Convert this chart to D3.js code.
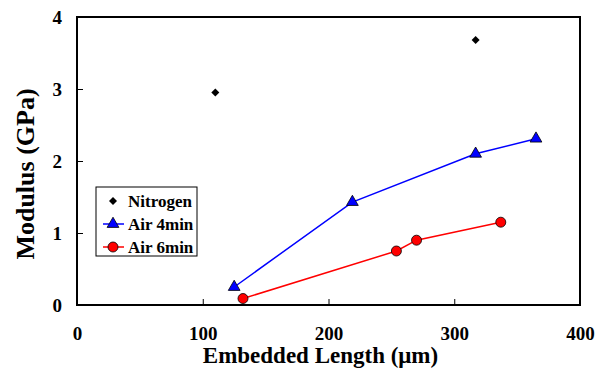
<!DOCTYPE html>
<html>
<head>
<meta charset="utf-8">
<script src="https://cdn.jsdelivr.net/npm/d3@7"></script>
<style>
  body { margin: 0; background: #fff; }
  svg text { font-family: "Liberation Serif", "Times New Roman", serif; font-weight: bold; }
</style>
</head>
<body>
<div id="chart"></div>
<script>
// data
const nitrogenX = [110, 317];
const nitrogenY = [2.95, 3.68];
const air4X = [125, 219, 317, 365];
const air4Y = [0.25, 1.43, 2.10, 2.31];
const air6X = [132, 254, 270, 337];
const air6Y = [0.09, 0.75, 0.90, 1.15];
const xTicks = [0, 100, 200, 300, 400];
const yTicks = [0, 1, 2, 3, 4];

const W = 605, H = 370;
const margin = { top: 17, right: 25, bottom: 65, left: 77 };
const width = W - margin.left - margin.right;
const height = H - margin.top - margin.bottom;
const serif = '"Liberation Serif", "Times New Roman", serif';

const svg = d3.select('#chart')
  .append('svg')
  .attr('width', W)
  .attr('height', H);

const g = svg.append('g')
  .attr('transform', `translate(${margin.left},${margin.top})`);

const x = d3.scaleLinear().domain([0, 400]).range([0, width]);
const y = d3.scaleLinear().domain([0, 4]).range([height, 0]);

// frame
g.append('rect')
  .attr('width', width)
  .attr('height', height)
  .attr('fill', 'none')
  .attr('stroke', '#000')
  .attr('stroke-width', 2);

// x axis, ticks inward
const xAxis = g.append('g')
  .attr('transform', `translate(0,${height})`)
  .call(d3.axisBottom(x).tickValues(xTicks).tickFormat(d3.format('d')).tickSize(-6).tickPadding(22))
  .attr('font-family', serif)
  .attr('font-size', 19)
  .attr('font-weight', 'bold');
xAxis.select('.domain').remove();
xAxis.selectAll('.tick text').attr('fill', '#000');

// y axis, ticks inward
const yAxis = g.append('g')
  .call(d3.axisLeft(y).tickValues(yTicks).tickFormat(d3.format('d')).tickSize(-6).tickPadding(15))
  .attr('font-family', serif)
  .attr('font-size', 19)
  .attr('font-weight', 'bold');
yAxis.select('.domain').remove();
yAxis.selectAll('.tick text').attr('fill', '#000');

// axis titles
svg.append('text')
  .attr('x', margin.left + width / 2 - 8)
  .attr('y', 363)
  .attr('text-anchor', 'middle')
  .attr('font-size', 23)
  .text('Embedded Length (\u03bcm)');

svg.append('text')
  .attr('transform', 'translate(34,174) rotate(-90)')
  .attr('text-anchor', 'middle')
  .attr('font-size', 26)
  .text('Modulus (GPa)');

const line = d3.line().x(d => x(d[0])).y(d => y(d[1]));
const air4 = air4X.map((v, i) => [v, air4Y[i]]);
const air6 = air6X.map((v, i) => [v, air6Y[i]]);
const nitrogen = nitrogenX.map((v, i) => [v, nitrogenY[i]]);

g.append('path').datum(air4).attr('d', line)
  .attr('fill', 'none').attr('stroke', '#0000ff').attr('stroke-width', 1.5);
g.append('path').datum(air6).attr('d', line)
  .attr('fill', 'none').attr('stroke', '#ff0000').attr('stroke-width', 1.5);

const tri = d3.symbol().type(d3.symbolTriangle).size(60);
const sq = d3.symbol().type(d3.symbolSquare).size(32);

g.selectAll('.tri').data(air4).enter().append('path')
  .attr('d', tri)
  .attr('transform', d => `translate(${x(d[0])},${y(d[1])})`)
  .attr('fill', '#0000ff').attr('stroke', '#000').attr('stroke-width', 0.8);

g.selectAll('.circ').data(air6).enter().append('circle')
  .attr('cx', d => x(d[0])).attr('cy', d => y(d[1])).attr('r', 5)
  .attr('fill', '#ff0000').attr('stroke', '#000').attr('stroke-width', 0.8);

g.selectAll('.dia').data(nitrogen).enter().append('path')
  .attr('d', sq)
  .attr('transform', d => `translate(${x(d[0])},${y(d[1])}) rotate(45)`)
  .attr('fill', '#000');

// legend
const lg = svg.append('g').attr('transform', 'translate(96,187)');
lg.append('rect')
  .attr('width', 101).attr('height', 69)
  .attr('fill', '#fff').attr('stroke', '#000').attr('stroke-width', 1);

const items = [
  { name: 'Nitrogen', color: null, sym: 'dia' },
  { name: 'Air 4min', color: '#0000ff', sym: 'tri' },
  { name: 'Air 6min', color: '#ff0000', sym: 'circ' }
];
items.forEach((it, i) => {
  const cy = 14 + i * 23;
  const row = lg.append('g').attr('transform', `translate(0,${cy})`);
  if (it.color) {
    row.append('line').attr('x1', 7).attr('x2', 28).attr('y1', 0).attr('y2', 0)
      .attr('stroke', it.color).attr('stroke-width', 1.5);
  }
  if (it.sym === 'dia') {
    row.append('path').attr('d', sq).attr('transform', 'translate(17,0) rotate(45)').attr('fill', '#000');
  } else if (it.sym === 'tri') {
    row.append('path').attr('d', tri).attr('transform', 'translate(17,0)')
      .attr('fill', '#0000ff').attr('stroke', '#000').attr('stroke-width', 0.8);
  } else {
    row.append('circle').attr('cx', 17).attr('cy', 0).attr('r', 5)
      .attr('fill', '#ff0000').attr('stroke', '#000').attr('stroke-width', 0.8);
  }
  row.append('text').attr('x', 32).attr('y', 6)
    .attr('font-size', 17).text(it.name);
});
</script>
</body>
</html>
